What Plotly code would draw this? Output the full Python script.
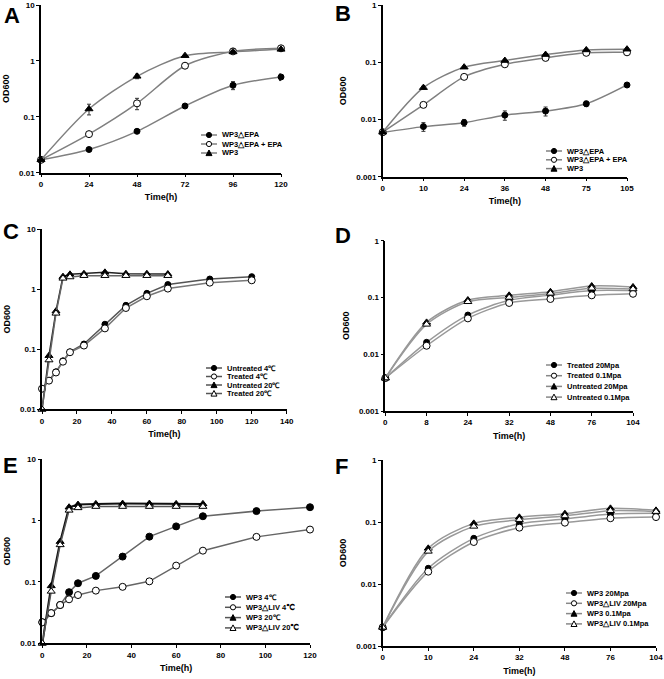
import plotly.graph_objects as go

W, H = 664, 679

# ---------------- data ----------------
A_time = [0, 24, 48, 72, 96, 120]
A_dEPA = [0.017, 0.026, 0.055, 0.156, 0.366, 0.515]
A_dEPA_err = [0, 0.002, 0.004, 0.01, 0.06, 0.07]
A_dEPA_plus = [0.017, 0.049, 0.174, 0.82, 1.48, 1.68]
A_dEPA_plus_err = [0, 0.003, 0.04, 0.07, 0.08, 0.08]
A_WP3 = [0.017, 0.138, 0.53, 1.24, 1.45, 1.61]
A_WP3_err = [0, 0.03, 0.05, 0.06, 0.08, 0.08]

B_labels = ['0', '10', '24', '36', '48', '75', '105']
B_dEPA = [0.0059, 0.0075, 0.0088, 0.0119, 0.014, 0.0188, 0.040]
B_dEPA_err = [0, 0.0013, 0.0012, 0.0022, 0.0025, 0.002, 0.002]
B_dEPA_plus = [0.006, 0.018, 0.0555, 0.092, 0.119, 0.146, 0.149]
B_dEPA_plus_err = [0, 0.0015, 0.003, 0.004, 0.004, 0.005, 0.005]
B_WP3 = [0.006, 0.036, 0.082, 0.107, 0.136, 0.164, 0.169]
B_WP3_err = [0, 0.002, 0.003, 0.004, 0.005, 0.006, 0.006]

C_time4 = [0, 4, 8, 12, 16, 24, 36, 48, 60, 72, 96, 120]
C_untreated4 = [0.022, 0.030, 0.042, 0.064, 0.090, 0.122, 0.26, 0.537, 0.85, 1.19, 1.47, 1.61]
C_treated4 = [0.022, 0.030, 0.041, 0.062, 0.089, 0.115, 0.222, 0.485, 0.76, 1.02, 1.28, 1.40]
C_time20 = [0, 4, 8, 12, 16, 24, 36, 48, 60, 72]
C_untreated20 = [0.01, 0.078, 0.43, 1.61, 1.76, 1.80, 1.90, 1.80, 1.80, 1.78]
C_treated20 = [0.01, 0.066, 0.395, 1.51, 1.59, 1.67, 1.67, 1.67, 1.67, 1.67]

D_labels = ['0', '8', '24', '32', '48', '76', '104']
D_treated20 = [0.0038, 0.0162, 0.049, 0.089, 0.110, 0.133, 0.133]
D_treated01 = [0.0038, 0.0141, 0.0428, 0.080, 0.094, 0.109, 0.116]
D_untreated20 = [0.0038, 0.0364, 0.090, 0.109, 0.126, 0.159, 0.153]
D_untreated01 = [0.0038, 0.0336, 0.084, 0.100, 0.118, 0.145, 0.141]

E_time4 = [0, 4, 8, 12, 16, 24, 36, 48, 60, 72, 96, 120]
E_wp3_4 = [0.022, 0.031, 0.042, 0.068, 0.095, 0.125, 0.258, 0.545, 0.80, 1.17, 1.42, 1.64]
E_liv_4 = [0.022, 0.031, 0.042, 0.052, 0.061, 0.072, 0.083, 0.102, 0.184, 0.322, 0.54, 0.71]
E_time20 = [0, 4, 8, 12, 16, 24, 36, 48, 60, 72]
E_wp3_20 = [0.01, 0.086, 0.452, 1.64, 1.81, 1.86, 1.88, 1.88, 1.86, 1.86]
E_liv_20 = [0.01, 0.070, 0.40, 1.46, 1.60, 1.68, 1.68, 1.68, 1.68, 1.68]

F_labels = ['0', '10', '24', '32', '48', '76', '104']
F_wp3_20 = [0.002, 0.0179, 0.0545, 0.094, 0.112, 0.135, 0.139]
F_liv_20 = [0.002, 0.0158, 0.0476, 0.081, 0.0975, 0.115, 0.120]
F_wp3_01 = [0.002, 0.0376, 0.095, 0.119, 0.136, 0.166, 0.154]
F_liv_01 = [0.002, 0.0336, 0.085, 0.109, 0.125, 0.152, 0.147]

FONT = 'Liberation Sans, Arial, sans-serif'

fig = go.Figure()


def px_x(x):
    return x / W


def px_y(y):
    return 1 - y / H


SYM = {
    'fc': dict(symbol='circle', color='black'),
    'oc': dict(symbol='circle', color='white'),
    'ft': dict(symbol='triangle-up', color='black'),
    'ot': dict(symbol='triangle-up', color='white'),
}


def add_series(ax, x, y, sym, lcolor, shape, size=6, err=None, lwidth=1.5):
    n = '' if ax == 1 else str(ax)
    kw = {}
    if err is not None:
        kw['error_y'] = dict(type='data', array=err, visible=True,
                             color='#333333', thickness=1, width=2)
    fig.add_trace(go.Scatter(
        x=x, y=y, xaxis='x' + n, yaxis='y' + n,
        mode='lines+markers', showlegend=False, cliponaxis=False,
        line=dict(color=lcolor, width=lwidth, shape=shape, smoothing=0.8),
        marker=dict(symbol=SYM[sym]['symbol'], color=SYM[sym]['color'],
                    size=size, line=dict(color='black', width=1)),
        **kw))


# Panel A
add_series(1, A_time, A_dEPA, 'fc', '#808080', 'spline', 6, A_dEPA_err)
add_series(1, A_time, A_dEPA_plus, 'oc', '#808080', 'spline', 7, A_dEPA_plus_err)
add_series(1, A_time, A_WP3, 'ft', '#808080', 'spline', 7, A_WP3_err)
# Panel B
B_x = list(range(len(B_labels)))
add_series(2, B_x, B_dEPA, 'fc', '#808080', 'spline', 6, B_dEPA_err)
add_series(2, B_x, B_dEPA_plus, 'oc', '#808080', 'spline', 7, B_dEPA_plus_err)
add_series(2, B_x, B_WP3, 'ft', '#808080', 'spline', 7, B_WP3_err)
# Panel C
add_series(3, C_time4, C_untreated4, 'fc', '#555555', 'linear', 6)
add_series(3, C_time4, C_treated4, 'oc', '#777777', 'linear', 7)
add_series(3, C_time20, C_untreated20, 'ft', '#222222', 'linear', 7)
add_series(3, C_time20, C_treated20, 'ot', '#666666', 'linear', 7)
# Panel D
D_x = list(range(len(D_labels)))
add_series(4, D_x, D_treated20, 'fc', '#999999', 'spline', 6)
add_series(4, D_x, D_treated01, 'oc', '#999999', 'spline', 7)
add_series(4, D_x, D_untreated20, 'ft', '#999999', 'spline', 7)
add_series(4, D_x, D_untreated01, 'ot', '#999999', 'spline', 7)
# Panel E
add_series(5, E_time4, E_wp3_4, 'fc', '#666666', 'linear', 7)
add_series(5, E_time4, E_liv_4, 'oc', '#666666', 'linear', 7)
add_series(5, E_time20, E_wp3_20, 'ft', '#111111', 'linear', 7, lwidth=2)
add_series(5, E_time20, E_liv_20, 'ot', '#555555', 'linear', 7)
# Panel F
F_x = list(range(len(F_labels)))
add_series(6, F_x, F_wp3_20, 'fc', '#999999', 'spline', 6)
add_series(6, F_x, F_liv_20, 'oc', '#999999', 'spline', 7)
add_series(6, F_x, F_wp3_01, 'ft', '#999999', 'spline', 7)
add_series(6, F_x, F_liv_01, 'ot', '#999999', 'spline', 7)

# ---------------- axes ----------------
panels = [
    dict(xd=(41, 281), yd=(5, 172.7), xr=[0, 120], xtv=A_time, xtt=[str(t) for t in A_time], yr=[-2, 1]),
    dict(xd=(382.7, 627), yd=(5, 176.7), xr=[0, 6], xtv=B_x, xtt=B_labels, yr=[-3, 0]),
    dict(xd=(42, 286.7), yd=(229, 409.3), xr=[0, 140], xtv=list(range(0, 141, 20)),
         xtt=[str(t) for t in range(0, 141, 20)], yr=[-2, 1]),
    dict(xd=(385.3, 633), yd=(240.7, 411), xr=[0, 6], xtv=D_x, xtt=D_labels, yr=[-3, 0]),
    dict(xd=(42.3, 310), yd=(459, 643.3), xr=[0, 120], xtv=list(range(0, 121, 20)),
         xtt=[str(t) for t in range(0, 121, 20)], yr=[-2, 1]),
    dict(xd=(382.7, 656), yd=(460, 646), xr=[0, 6], xtv=F_x, xtt=F_labels, yr=[-3, 0]),
]

tickfont = dict(family=FONT, size=8, color='black', weight='bold')
titlefont = dict(family=FONT, size=9, color='black', weight='bold')

layout = dict(width=W, height=H, margin=dict(l=0, r=0, t=0, b=0),
              paper_bgcolor='white', plot_bgcolor='white', showlegend=False)

for i, p in enumerate(panels, start=1):
    n = '' if i == 1 else str(i)
    yvals = [10 ** k for k in range(p['yr'][0], p['yr'][1] + 1)]
    ytext = [('%g' % v) for v in yvals]
    layout['xaxis' + n] = dict(
        domain=[px_x(p['xd'][0]), px_x(p['xd'][1])], range=p['xr'], anchor='y' + n,
        tickmode='array', tickvals=p['xtv'], ticktext=p['xtt'],
        showline=True, linecolor='black', linewidth=1.5, ticks='outside', ticklen=3,
        tickwidth=1, tickcolor='black', showgrid=False, zeroline=False,
        tickfont=tickfont, automargin=False,
        title=dict(text='Time(h)', font=titlefont, standoff=6))
    layout['yaxis' + n] = dict(
        domain=[px_y(p['yd'][1]), px_y(p['yd'][0])], type='log', range=p['yr'], anchor='x' + n,
        tickmode='array', tickvals=yvals, ticktext=ytext,
        showline=True, linecolor='black', linewidth=1.5, ticks='outside', ticklen=3,
        tickwidth=1, tickcolor='black', showgrid=False, zeroline=False,
        tickfont=tickfont, automargin=False,
        title=dict(text='OD600', font=titlefont, standoff=8))

fig.update_layout(**layout)

# ---------------- panel letters ----------------
letters = [('A', 2, 15), ('B', 333, 13), ('C', 1, 231), ('D', 333, 235), ('E', 1, 465), ('F', 333, 466)]
for t, x, y in letters:
    fig.add_annotation(text=t, x=px_x(x), y=px_y(y), xref='paper', yref='paper',
                       xanchor='left', yanchor='middle', showarrow=False,
                       font=dict(family=FONT, size=22, color='black', weight='bold'))

# ---------------- legends (drawn) ----------------
A_legend = [('fc', 'WP3△EPA'), ('oc', 'WP3△EPA + EPA'), ('ft', 'WP3')]
B_legend = [('fc', 'WP3△EPA'), ('oc', 'WP3△EPA + EPA'), ('ft', 'WP3')]
C_legend = [('fc', 'Untreated 4℃'), ('oc', 'Treated 4℃'), ('ft', 'Untreated 20℃'), ('ot', 'Treated 20℃')]
D_legend = [('fc', 'Treated 20Mpa'), ('oc', 'Treated 0.1Mpa'), ('ft', 'Untreated 20Mpa'), ('ot', 'Untreated 0.1Mpa')]
E_legend = [('fc', 'WP3 4℃'), ('oc', 'WP3△LIV 4℃'), ('ft', 'WP3 20℃'), ('ot', 'WP3△LIV 20℃')]
F_legend = [('fc', 'WP3 20Mpa'), ('oc', 'WP3△LIV 20Mpa'), ('ft', 'WP3 0.1Mpa'), ('ot', 'WP3△LIV 0.1Mpa')]


def draw_legend(rows, x0, y0, dy, line_len=16, lcolor='#808080'):
    for i, (sym, label) in enumerate(rows):
        y = y0 + i * dy
        fig.add_shape(type='line', xref='paper', yref='paper',
                      x0=px_x(x0), x1=px_x(x0 + line_len), y0=px_y(y), y1=px_y(y),
                      line=dict(color=lcolor, width=1.5))
        cx, r = x0 + line_len / 2, 2.6
        fill = 'black' if sym.startswith('f') else 'white'
        if sym.endswith('c'):
            fig.add_shape(type='circle', xref='paper', yref='paper',
                          x0=px_x(cx - r), x1=px_x(cx + r), y0=px_y(y + r), y1=px_y(y - r),
                          fillcolor=fill, line=dict(color='black', width=1))
        else:
            path = 'M %f,%f L %f,%f L %f,%f Z' % (
                px_x(cx), px_y(y - r - 0.4), px_x(cx + r + 0.4), px_y(y + r),
                px_x(cx - r - 0.4), px_y(y + r))
            fig.add_shape(type='path', xref='paper', yref='paper', path=path,
                          fillcolor=fill, line=dict(color='black', width=1))
        fig.add_annotation(text=label, x=px_x(x0 + line_len + 3), y=px_y(y),
                           xref='paper', yref='paper', xanchor='left', yanchor='middle',
                           showarrow=False,
                           font=dict(family=FONT, size=7.5, color='black', weight='bold'))


draw_legend(A_legend, 201, 135, 9)
draw_legend(B_legend, 546, 151, 8.8)
draw_legend(C_legend, 206, 368, 8.5, lcolor='#555555')
draw_legend(D_legend, 546, 365, 10.7, lcolor='#888888')
draw_legend(E_legend, 225, 597, 10.3, lcolor='#555555')
draw_legend(F_legend, 566, 593, 10.3, lcolor='#888888')

# remove the page's default 8px body margin so the figure fills the window exactly
fig.write_html('out.html',
               config={'displayModeBar': False},
               post_script="document.body.style.margin='0';document.body.style.overflow='hidden';")
